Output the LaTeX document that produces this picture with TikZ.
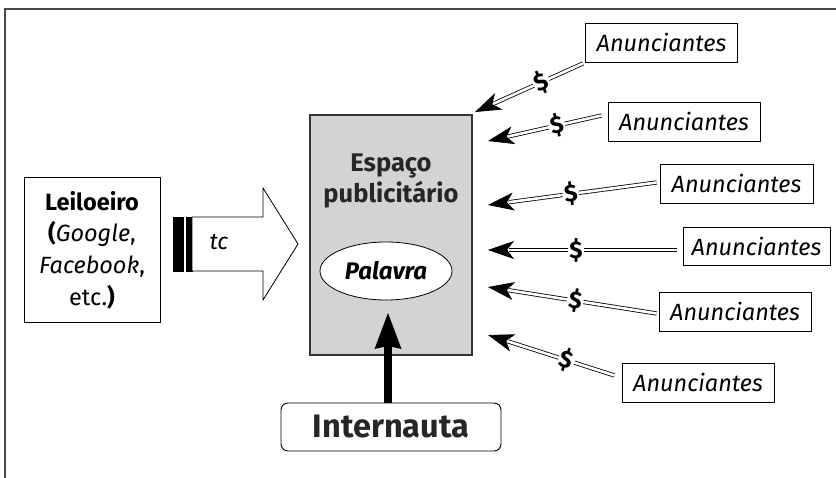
\documentclass[tikz,border=0pt]{standalone}
\usepackage{fontspec}
\setmainfont{Fira Sans}
\usetikzlibrary{arrows.meta,calc,shapes.geometric}
\definecolor{boxgray}{HTML}{D3D3D5}
\definecolor{framegray}{HTML}{4A4A4A}
\begin{document}
\begin{tikzpicture}[x=1pt,y=-1pt,
  frameline/.style={draw=framegray,line width=2pt},
  anbox/.style={draw,line width=0.9pt,inner sep=0pt,minimum width=152pt,minimum height=39pt,
    font=\fontsize{23.5}{26}\selectfont\itshape},
  dbl/.style={draw,line width=0.8pt,double,double distance=2.6pt},
  tipa/.style={line width=0.8pt,-{Stealth[length=26pt,width=18pt,inset=7pt]}},
  dollar/.style={fill=white,inner sep=1.5pt,sloped,font=\fontsize{24}{26}\selectfont\bfseries},
]
\useasboundingbox (0,0) rectangle (836,478);
\draw[frameline] (5,478) -- (5,9) -- (836,9);

% Leiloeiro
\node[draw,line width=0.9pt,minimum width=136pt,minimum height=145pt,inner sep=0pt,align=center,
  font=\fontsize{23.5}{31.7}\selectfont] (leil) at (92,250)
  {\textbf{Leiloeiro}\\\textbf{(}\textit{Google},\\\textit{Facebook},\\etc.\textbf{)}};

% tc arrow
\draw[fill=black] (173,217) rectangle (183,271);
\draw[fill=black] (186,217) rectangle (192,271);
\draw[line width=0.8pt,fill=white,line join=miter] (192,217) -- (263,217) -- (263,188) -- (298,244)
  -- (263,300) -- (263,271) -- (192,271) -- cycle;
\node[font=\fontsize{23}{25}\selectfont\itshape] (tc) at (219,242) {tc};

% Espaco publicitario
\node[draw=black!80,line width=1.1pt,fill=boxgray,minimum width=162pt,minimum height=240pt,inner sep=0pt] (esp) at (391,235) {};
\node[anchor=base,font=\fontsize{25.5}{28}\selectfont\bfseries,text=black!85] (esp1) at (391,172) {Espaço};
\node[anchor=base,font=\fontsize{25.5}{28}\selectfont\bfseries,text=black!85] (esp2) at (391,203) {publicitário};
\node[draw,ellipse,fill=white,line width=0.8pt,minimum width=132pt,minimum height=58pt,inner sep=0pt,
  font=\fontsize{24}{26}\selectfont\bfseries\itshape] (pal) at (386,271) {Palavra};

% Internauta
\node[draw,line width=0.9pt,rounded corners=7pt,minimum width=220pt,minimum height=48pt,inner sep=0pt,
  font=\fontsize{32.5}{36}\selectfont\bfseries,text=black!85] (inter) at (391,427) {Internauta};
\coordinate (up) at (388,313);
\draw[line width=8pt,-{Stealth[length=36pt,width=27pt,inset=3pt,line width=0pt]}] (inter.north -| up) -- (up);

% Anunciantes
\node[anbox] (a1) at (661.5,42.5) {Anunciantes};
\node[anbox] (a2) at (684,121.5) {Anunciantes};
\node[anbox,minimum width=153pt] (a3) at (736.5,183.5) {Anunciantes};
\node[anbox,minimum width=147pt,minimum height=38pt] (a4) at (756.5,246) {Anunciantes};
\node[anbox] (a5) at (735,311.5) {Anunciantes};
\node[anbox] (a6) at (698,382.5) {Anunciantes};

\coordinate (t1) at (475,112);
\coordinate (t2) at (488,141);
\coordinate (t3) at (488,205);
\coordinate (t4) at (488,250);
\coordinate (t5) at (488,287);
\coordinate (t6) at (488,335);

\coordinate (s1) at ($(a1.south west)+(-2,1)$);
\coordinate (s2) at ($(a2.west)+(-6,-6)$);
\coordinate (s3) at ($(a3.west)+(-3,-1)$);
\coordinate (s4) at ($(a4.west)+(-6,4)$);
\coordinate (s5) at ($(a5.west)+(-2,2)$);
\coordinate (s6) at ($(a6.west)+(-7,-7)$);

\foreach \i/\p in {1/0.47,2/0.48,3/0.58,4/0.6,5/0.55,6/0.45}{
  \draw[dbl] (s\i) -- node[dollar,pos=\p]{\$} ($(t\i)!21pt!(s\i)$);
  \draw[tipa] ($(t\i)!19.5pt!(s\i)$) -- (t\i);
}
\end{tikzpicture}
\end{document}
